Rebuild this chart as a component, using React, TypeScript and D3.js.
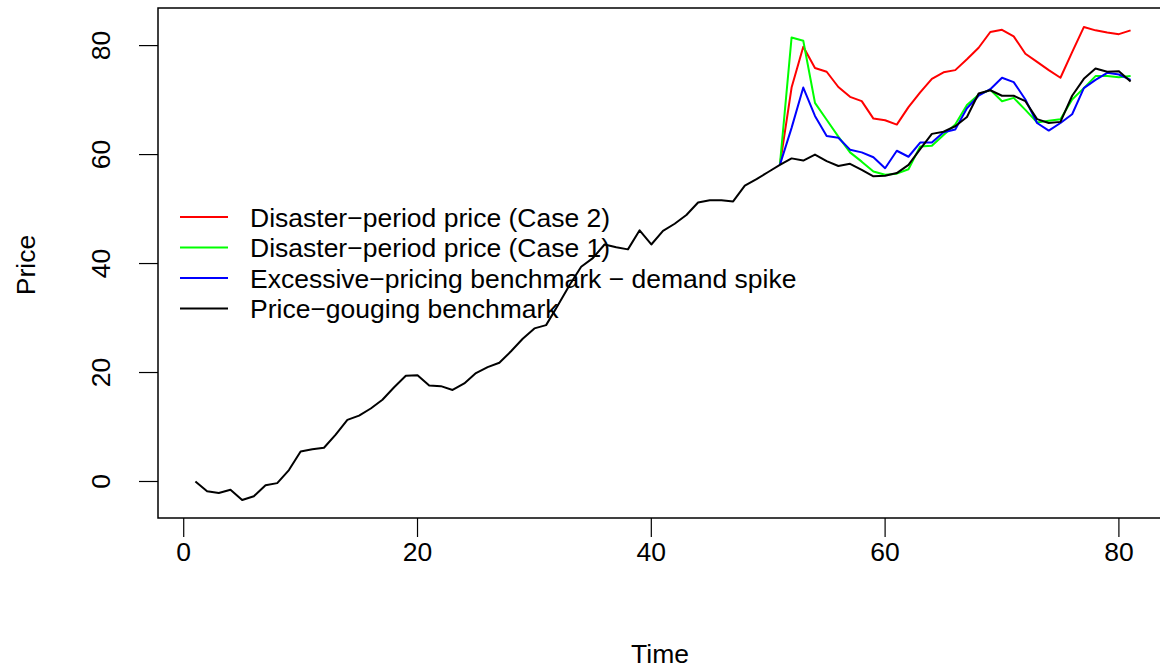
import React from "react";
import * as d3 from "d3";

// time index 1..81
const time = d3.range(1, 82);

// price-gouging benchmark (black), full series
const benchmark = [
  0, -1.8, -2.1, -1.5, -3.4, -2.7, -0.7, -0.3, 2.1, 5.5,
  5.9, 6.2, 8.6, 11.3, 12.1, 13.4, 15.0, 17.3, 19.4, 19.5,
  17.6, 17.5, 16.8, 18.0, 19.9, 21.0, 21.8, 23.9, 26.2, 28.1,
  28.7, 32.3, 36.0, 39.4, 41.0, 43.5, 43.0, 42.6, 46.1, 43.5,
  46.0, 47.3, 48.9, 51.2, 51.6, 51.6, 51.4, 54.3, 55.5, 56.8,
  58.1, 59.3, 58.9, 60.0, 58.8, 57.9, 58.3, 57.2, 56.0, 56.1,
  56.6, 58.1, 61.0, 63.8, 64.2, 65.2, 66.9, 71.2, 71.8, 70.8,
  70.8, 69.8, 66.5, 65.8, 66.0, 70.8, 73.9, 75.8, 75.2, 75.3,
  73.4,
];

// disaster period starts after t = 51; these are t = 52..81
const disasterStart = 51;
const case2 = [
  72.3, 79.8, 75.9, 75.2, 72.4, 70.6, 69.8, 66.6, 66.3, 65.5,
  68.7, 71.4, 73.9, 75.1, 75.5, 77.5, 79.6, 82.5, 82.9, 81.7,
  78.5, 77.0, 75.5, 74.1, 78.8, 83.4, 82.8, 82.4, 82.1, 82.8,
];
const case1 = [
  81.5, 80.9, 69.5, 66.4, 63.3, 60.4, 58.7, 56.9, 56.3, 56.5,
  57.3, 61.5, 61.6, 63.6, 65.5, 69.1, 71.0, 71.9, 69.8, 70.4,
  68.2, 65.9, 66.2, 66.5, 70.1, 72.2, 74.4, 74.4, 74.2, 74.4,
];
const spike = [
  64.9, 72.3, 67.1, 63.4, 63.1, 60.9, 60.4, 59.5, 57.5, 60.7,
  59.6, 62.2, 62.2, 64.1, 64.6, 68.5, 70.8, 72.0, 74.1, 73.3,
  70.1, 65.8, 64.4, 65.8, 67.4, 72.2, 73.7, 75.0, 74.7, 73.7,
];

const xTicks = [0, 20, 40, 60, 80];
const yTicks = [0, 20, 40, 60, 80];

const legendLabels = [
  "Disaster\u2212period price (Case 2)",
  "Disaster\u2212period price (Case 1)",
  "Excessive\u2212pricing benchmark \u2212 demand spike",
  "Price\u2212gouging benchmark",
];
const legendColors = ["#ff0000", "#00ff00", "#0000ff", "#000000"];

const W = 1160;
const H = 669;
const FONT = "'Liberation Sans', Arial, Helvetica, sans-serif";
const FS = 26.5;

export default function App() {
  const left = 158, top = 8, bottom = 518, right = 1168;

  const x = d3.scaleLinear().domain([-2.2, 84.2]).range([left, right]);
  const y = d3.scaleLinear().domain([-6.7, 86.9]).range([bottom, top]);

  const line = d3
    .line<[number, number]>()
    .x((d) => x(d[0]))
    .y((d) => y(d[1]));

  const base = benchmark[disasterStart - 1];
  const withStart = (vals: number[]): [number, number][] => [
    [disasterStart, base],
    ...vals.map((v, i) => [disasterStart + 1 + i, v] as [number, number]),
  ];

  const series: { pts: [number, number][]; color: string }[] = [
    { pts: withStart(case2), color: legendColors[0] },
    { pts: withStart(case1), color: legendColors[1] },
    { pts: withStart(spike), color: legendColors[2] },
    { pts: time.map((t, i) => [t, benchmark[i]] as [number, number]), color: legendColors[3] },
  ];

  return (
    <svg
      width={W}
      height={H}
      style={{ position: "absolute", left: 0, top: 0, background: "#fff" }}
      fontFamily={FONT}
    >
      {/* data lines */}
      <g fill="none" strokeWidth={2} strokeLinejoin="round">
        {series.map((s, i) => (
          <path key={i} d={line(s.pts) || ""} stroke={s.color} />
        ))}
      </g>

      {/* box */}
      <rect
        x={left}
        y={top}
        width={right - left}
        height={bottom - top}
        fill="none"
        stroke="#000"
        strokeWidth={1.5}
      />

      {/* x axis */}
      <g stroke="#000" strokeWidth={1.2}>
        {xTicks.map((t) => (
          <line key={t} x1={x(t)} x2={x(t)} y1={bottom} y2={bottom + 19} />
        ))}
      </g>
      <g fontSize={FS} textAnchor="middle" fill="#000">
        {xTicks.map((t) => (
          <text key={t} x={x(t)} y={561}>
            {t}
          </text>
        ))}
      </g>

      {/* y axis */}
      <g stroke="#000" strokeWidth={1.2}>
        {yTicks.map((t) => (
          <line key={t} x1={left} x2={left - 19} y1={y(t)} y2={y(t)} />
        ))}
      </g>
      <g fontSize={FS} textAnchor="middle" fill="#000">
        {yTicks.map((t) => (
          <text key={t} transform={`translate(109.5,${y(t)}) rotate(-90)`}>
            {t}
          </text>
        ))}
      </g>

      {/* axis titles */}
      <text x={660} y={663} fontSize={FS} textAnchor="middle">
        Time
      </text>
      <text transform="translate(35,265) rotate(-90)" fontSize={FS} textAnchor="middle">
        Price
      </text>

      {/* legend */}
      <g>
        {legendLabels.map((lab, i) => {
          const ly = 217 + i * 30.5;
          return (
            <g key={lab}>
              <line x1={180} x2={228} y1={ly} y2={ly} stroke={legendColors[i]} strokeWidth={2} />
              <text x={250} y={ly + 9.5} fontSize={FS}>
                {lab}
              </text>
            </g>
          );
        })}
      </g>
    </svg>
  );
}
